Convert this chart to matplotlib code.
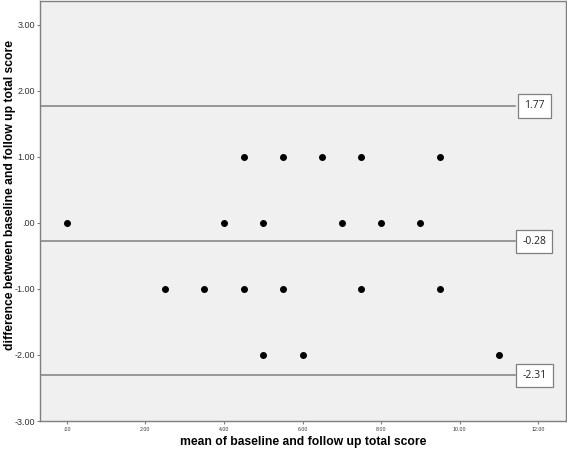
import matplotlib
matplotlib.use("Agg")
import matplotlib.pyplot as plt

# Bland-Altman data
mean_score = [0, 2.5, 3.5, 4, 4.5, 4.5, 5, 5, 5.5, 5.5, 6, 6.5, 7, 7.5, 7.5, 8, 9, 9.5, 9.5, 11]
diff_score = [0, -1, -1, 0, 1, -1, 0, -2, 1, -1, -2, 1, 0, 1, -1, 0, 0, 1, -1, -2]
ref_lines = [1.77, -0.28, -2.31]
ref_labels = ["1.77", "-0.28", "-2.31"]
x_ticks = [0, 2, 4, 6, 8, 10, 12]
x_ticklabels = [".00", "2.00", "4.00", "6.00", "8.00", "10.00", "12.00"]
y_ticks = [3, 2, 1, 0, -1, -2, -3]
y_ticklabels = ["3.00", "2.00", "1.00", ".00", "-1.00", "-2.00", "-3.00"]

plt.rcParams['font.family'] = ['Liberation Sans', 'DejaVu Sans']

fig = plt.figure(figsize=(5.67, 4.5), dpi=100)
ax = fig.add_axes([0.0714, 0.0644, 0.9263, 0.9336])
ax.set_facecolor("#f0f0f0")

ax.set_xlim(-0.67, 12.7)
ax.set_ylim(-3.0, 3.36)

# reference lines stop at the label box
line_end = 11.4
box_mid = 11.9
for y, lab in zip(ref_lines, ref_labels):
    ax.plot([-0.67, line_end], [y, y], color="#7f7f7f", lw=1.1, zorder=1)
    ax.text(box_mid, y, lab, ha="center", va="center", fontsize=7.5,
            family=['Open Sans', 'DejaVu Sans'], color="#222222",
            bbox=dict(boxstyle="square,pad=0.6", fc="white", ec="#7f7f7f", lw=0.9))

ax.scatter(mean_score, diff_score, s=16, color="black", zorder=3)

ax.set_xticks(x_ticks)
ax.set_xticklabels(x_ticklabels, fontsize=3.8, color="#333333")
ax.set_yticks(y_ticks)
ax.set_yticklabels(y_ticklabels, fontsize=6.5, color="#333333")
ax.tick_params(axis="both", direction="out", length=2.5, width=0.8, color="#7f7f7f", pad=1.5)

for s in ax.spines.values():
    s.set_color("#7f7f7f")
    s.set_linewidth(1.0)

ax.set_xlabel("mean of baseline and follow up total score", fontsize=8.7,
              fontweight="bold", labelpad=3)
ax.set_ylabel("difference between baseline and follow up total score", fontsize=8.7,
              fontweight="bold")
ax.yaxis.set_label_coords(-0.047, 0.538)

fig.savefig("out.png", dpi=100)
